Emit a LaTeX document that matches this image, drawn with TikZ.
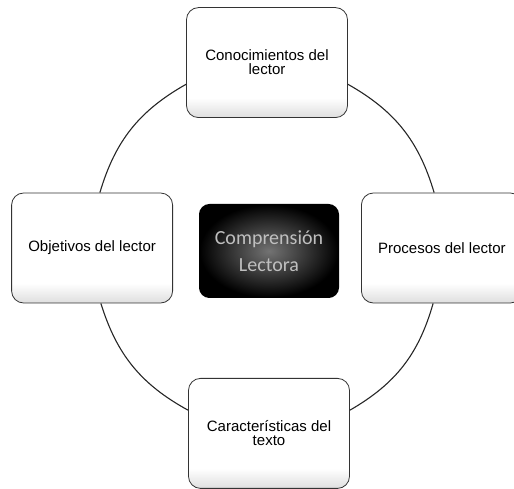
\documentclass[tikz,border=0pt]{standalone}
\usepackage{fontspec}
\setmainfont{Liberation Sans}
\newfontfamily\calibri{Carlito}
\usetikzlibrary{positioning}
\pgfdeclareverticalshading{boxshade}{100bp}{color(0bp)=(black!45);color(20bp)=(black!20);color(34bp)=(white);color(100bp)=(white)}
\begin{document}
\begin{tikzpicture}[x=1pt,y=1pt,
        part/.style={rectangle,draw=black!80,line width=.8pt,shading=boxshade,rounded corners=12pt,
            minimum width=161pt,minimum height=110pt,align=center,
            font=\fontsize{15}{14}\selectfont},
        core/.style={rectangle,draw=black,line width=1pt,inner color=black!55,outer color=black,
            rounded corners=10pt,minimum width=139pt,minimum height=93pt,align=center,
            text=white!75!black,font=\calibri\fontsize{20}{27}\selectfont},
        ring/.style={draw=black!85,line width=1.1pt}]

        \useasboundingbox (0,0) rectangle (514,489);

        \node[core] (comp) at (269,238) {Comprensión\\Lectora};

        \node[part,above=86pt of comp,xshift=-2pt] (conoc) {Conocimientos del\\lector};
        \node[part,left=26pt of comp,yshift=3pt] (objet) {Objetivos del lector};
        \node[part,right=22pt of comp,yshift=3pt] (proc) {Procesos del lector};
        \node[part,below=80pt of comp] (carac) {Características del\\texto};

        % arcs of the ring, between the boxes
        \draw[ring] (conoc.195) to[bend right=22] (objet.82);
        \draw[ring] (objet.279) to[bend right=22] (carac.164);
        \draw[ring] (carac.16) to[bend right=22] (proc.261);
        \draw[ring] (proc.98) to[bend right=22] (conoc.345);
    \end{tikzpicture}
\end{document}
